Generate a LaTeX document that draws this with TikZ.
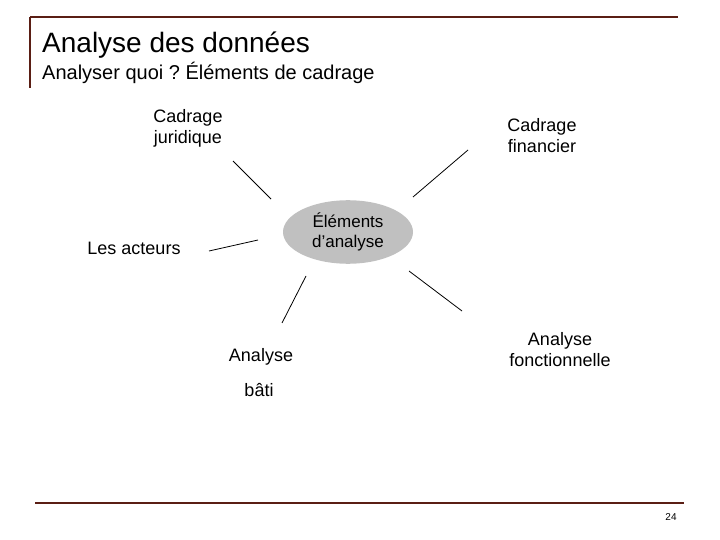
\documentclass[tikz,border=0pt]{standalone}
\usepackage{fontspec}
\setmainfont{Liberation Sans}
\usetikzlibrary{shapes.geometric}
\definecolor{framebrown}{HTML}{5A1E14}
\definecolor{ellgray}{HTML}{C0C0C0}
\begin{document}
\begin{tikzpicture}[x=1pt,y=-1pt,
  lbl/.style={align=center,font=\fontsize{18}{21}\selectfont,inner sep=0pt},
  spoke/.style={draw=black,line width=0.8pt},
  frame/.style={draw=framebrown,line width=2pt}]
\useasboundingbox (0,0) rectangle (720,540);
% frame
\coordinate (tl) at (30,17);
\coordinate (tr) at (678,17);
\coordinate (vb) at (30,88);
\coordinate (bl) at (35,503);
\coordinate (br) at (684,503);
\draw[frame] (tl) -- (tr);
\draw[frame] (tl) -- (vb);
\draw[frame] (bl) -- (br);
% titles
\node[anchor=base west,inner sep=0pt,font=\fontsize{28}{32}\selectfont] (title) at (42,53) {Analyse des données};
\node[anchor=base west,inner sep=0pt,font=\fontsize{20}{24}\selectfont] (sub) at (42,80) {Analyser quoi ?~Éléments de cadrage};
\node[inner sep=0pt,font=\fontsize{10}{12}\selectfont] (page) at (671,517) {24};
% center
\node[ellipse,fill=ellgray,minimum width=130pt,minimum height=60pt,align=center,font=\fontsize{17}{20}\selectfont] (center) at (348,232) {Éléments\\d’analyse};
% labels
\node[lbl] (jur) at (188,128) {Cadrage\\juridique};
\node[lbl] (fin) at (542,136) {Cadrage\\financier};
\node[lbl] (act) at (134,248) {Les acteurs};
\node[lbl] (ana) at (261,357) {Analyse};
\node[lbl] (bati) at (259,390) {bâti};
\node[lbl] (fonc) at (560,350) {Analyse\\fonctionnelle};
% spokes
\coordinate (j1) at (233,161); \coordinate (j2) at (271,199);
\coordinate (f1) at (468,150); \coordinate (f2) at (413,197);
\coordinate (a1) at (209,251); \coordinate (a2) at (258,240);
\coordinate (b1) at (306,276); \coordinate (b2) at (282,323);
\coordinate (n1) at (409,271); \coordinate (n2) at (462,311);
\draw[spoke] (j1) -- (j2);
\draw[spoke] (f1) -- (f2);
\draw[spoke] (a1) -- (a2);
\draw[spoke] (b1) -- (b2);
\draw[spoke] (n1) -- (n2);
\end{tikzpicture}
\end{document}
